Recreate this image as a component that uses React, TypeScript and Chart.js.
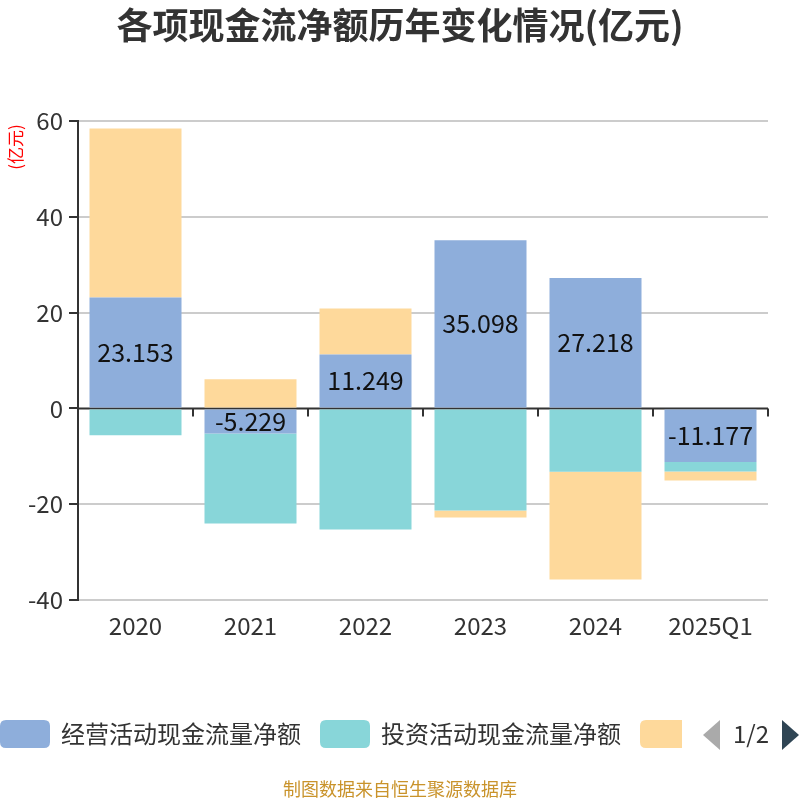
import React, { useEffect, useRef } from "react";
import { Chart, registerables } from "chart.js";

Chart.register(...registerables);

const categories = ["2020", "2021", "2022", "2023", "2024", "2025Q1"];
const operating = [23.153, -5.229, 11.249, 35.098, 27.218, -11.177];
const investing = [-5.6, -18.8, -25.3, -21.3, -13.2, -2.0];
const financing = [35.3, 6.1, 9.6, -1.5, -22.5, -1.85];
const seriesNames = ["经营活动现金流量净额", "投资活动现金流量净额", "筹资活动现金流量净额"];
const seriesColors = ["#8eaedb", "#88d6d9", "#fed99b"];
const yMin = -40;
const yMax = 60;
const yStep = 20;

const FONT = '"Noto Sans CJK SC", "Noto Sans", sans-serif';

const extrasPlugin = {
  id: "extras",
  beforeDatasetsDraw(chart: any) {
    const { ctx, chartArea, scales } = chart;
    const y0 = scales.y.getPixelForValue(0);
    ctx.save();
    ctx.strokeStyle = "#333";
    ctx.lineWidth = 2;
    ctx.beginPath();
    ctx.moveTo(chartArea.left, y0);
    ctx.lineTo(chartArea.right, y0);
    ctx.stroke();
    const n = categories.length;
    const w = (chartArea.right - chartArea.left) / n;
    for (let i = 1; i <= n; i++) {
      const x = chartArea.left + i * w;
      ctx.beginPath();
      ctx.moveTo(x, y0);
      ctx.lineTo(x, y0 + 8);
      ctx.stroke();
    }
    ctx.restore();
  },
  afterDatasetsDraw(chart: any) {
    const { ctx } = chart;
    const meta = chart.getDatasetMeta(0);
    ctx.save();
    ctx.fillStyle = "#111";
    ctx.font = `25px ${FONT}`;
    ctx.textAlign = "center";
    ctx.textBaseline = "middle";
    meta.data.forEach((bar: any, i: number) => {
      const cy = (bar.y + bar.base) / 2;
      ctx.fillText(operating[i].toFixed(3), bar.x, cy);
    });
    ctx.restore();
  },
  afterDraw(chart: any) {
    const { ctx } = chart;
    ctx.save();
    // title
    ctx.fillStyle = "#333";
    ctx.font = `bold 36px ${FONT}`;
    ctx.textAlign = "center";
    ctx.textBaseline = "middle";
    ctx.fillText("各项现金流净额历年变化情况(亿元)", 400, 25);
    // y unit
    ctx.save();
    ctx.translate(16, 147);
    ctx.rotate(-Math.PI / 2);
    ctx.fillStyle = "#ff0000";
    ctx.font = `17px ${FONT}`;
    ctx.textAlign = "center";
    ctx.textBaseline = "middle";
    ctx.fillText("(亿元)", 0, 0);
    ctx.restore();
    // legend
    const boxes = [
      { x: 0, w: 50 },
      { x: 320, w: 50 },
      { x: 640, w: 50 },
    ];
    const rr = (x: number, y: number, w: number, h: number, r: number) => {
      ctx.beginPath();
      ctx.moveTo(x + r, y);
      ctx.lineTo(x + w - r, y);
      ctx.quadraticCurveTo(x + w, y, x + w, y + r);
      ctx.lineTo(x + w, y + h - r);
      ctx.quadraticCurveTo(x + w, y + h, x + w - r, y + h);
      ctx.lineTo(x + r, y + h);
      ctx.quadraticCurveTo(x, y + h, x, y + h - r);
      ctx.lineTo(x, y + r);
      ctx.quadraticCurveTo(x, y, x + r, y);
      ctx.closePath();
    };
    ctx.save();
    ctx.beginPath();
    ctx.rect(0, 700, 682, 60);
    ctx.clip();
    boxes.forEach((b, i) => {
      ctx.fillStyle = seriesColors[i];
      rr(b.x, 720, b.w, 28, 6);
      ctx.fill();
    });
    ctx.fillStyle = "#333";
    ctx.font = `24px ${FONT}`;
    ctx.textAlign = "left";
    ctx.textBaseline = "middle";
    ctx.fillText(seriesNames[0], 61, 734);
    ctx.fillText(seriesNames[1], 381, 734);
    ctx.restore();
    // pager
    ctx.fillStyle = "#aaaaaa";
    ctx.beginPath();
    ctx.moveTo(720, 720);
    ctx.lineTo(720, 750);
    ctx.lineTo(703, 735);
    ctx.closePath();
    ctx.fill();
    ctx.fillStyle = "#2f4554";
    ctx.beginPath();
    ctx.moveTo(782, 720);
    ctx.lineTo(782, 750);
    ctx.lineTo(799, 735);
    ctx.closePath();
    ctx.fill();
    ctx.fillStyle = "#333";
    ctx.font = `24px ${FONT}`;
    ctx.textAlign = "center";
    ctx.fillText("1/2", 751, 734);
    // source
    ctx.fillStyle = "#c9932b";
    ctx.font = `18px ${FONT}`;
    ctx.fillText("制图数据来自恒生聚源数据库", 400, 789);
    ctx.restore();
  },
};

export default function App() {
  const ref = useRef<HTMLCanvasElement>(null);
  useEffect(() => {
    if (!ref.current) return;
    const chart = new Chart(ref.current, {
      type: "bar",
      data: {
        labels: categories,
        datasets: [
          { label: seriesNames[0], data: operating, backgroundColor: seriesColors[0] },
          { label: seriesNames[1], data: investing, backgroundColor: seriesColors[1] },
          { label: seriesNames[2], data: financing, backgroundColor: seriesColors[2] },
        ],
      },
      options: {
        animation: false,
        responsive: false,
        devicePixelRatio: 1,
        layout: { padding: { left: 0, right: 32, top: 121, bottom: 0 } },
        datasets: { bar: { barPercentage: 0.8, categoryPercentage: 1 } },
        plugins: {
          legend: { display: false },
          title: { display: false },
          tooltip: { enabled: false },
        },
        scales: {
          x: {
            stacked: true,
            grid: { display: false },
            border: { display: false },
            ticks: { color: "#333", font: { size: 24, family: FONT }, padding: 3 },
            afterFit(scale: any) {
              scale.height = 200;
            },
          },
          y: {
            stacked: true,
            min: yMin,
            max: yMax,
            ticks: { stepSize: yStep, color: "#333", font: { size: 24, family: FONT }, padding: 6 },
            grid: {
              color: (c: any) => (c.tick && c.tick.value === 0 ? "rgba(0,0,0,0)" : "#cccccc"),
              tickColor: "#333",
              tickLength: 9,
              lineWidth: 2,
            },
            border: { display: true, color: "#333", width: 2 },
            afterFit(scale: any) {
              scale.width = 78;
            },
          },
        },
      },
      plugins: [extrasPlugin],
    });
    return () => chart.destroy();
  }, []);
  return (
    <div style={{ position: "absolute", left: 0, top: 0, width: 800, height: 800, background: "#fff" }}>
      <canvas ref={ref} width={800} height={800} style={{ width: 800, height: 800 }} />
    </div>
  );
}
